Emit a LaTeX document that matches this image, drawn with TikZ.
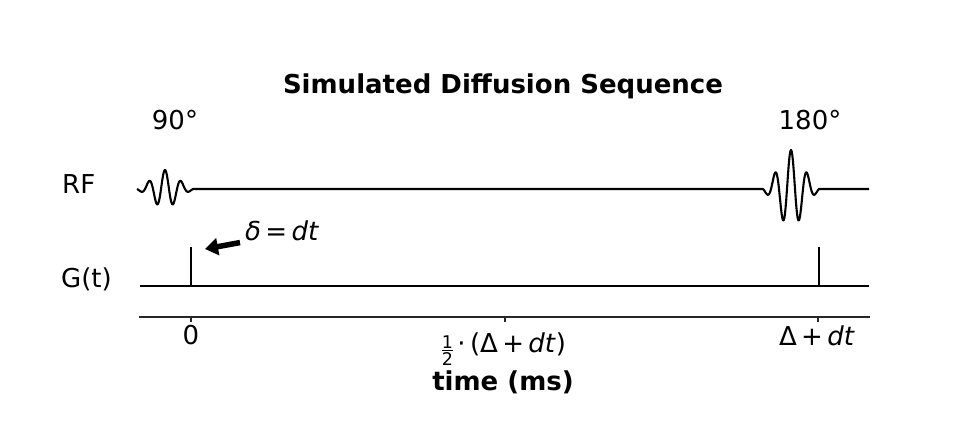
\documentclass[tikz,border=0pt]{standalone}
\usepackage{fontspec}
\setmainfont{DejaVu Sans}
\usetikzlibrary{arrows.meta}
\newcommand{\myhalf}{\raisebox{-0.5em}{\vbox{\fontsize{17.5}{17.5}\selectfont\halign{\hfil##\hfil\cr 1\cr\noalign{\kern1.5pt\hrule height1pt\kern1.5pt}2\cr}}}}
\begin{document}
\begin{tikzpicture}[x=1pt,y=-1pt,
  lbl/.style={inner sep=0pt, font=\fontsize{26}{31}\selectfont},
  ttl/.style={inner sep=0pt, font=\fontsize{26}{31}\selectfont\bfseries},
  sig/.style={line width=2.1pt, black, line join=round},
  axisline/.style={line width=1.1pt, black!85},
  bigarrow/.style={line width=5.5pt, -{Triangle[length=13pt,width=17pt]}}]
\path[use as bounding box, fill=white] (0,0) rectangle (972,428);
% title
\node[ttl, anchor=base] (title) at (503,93) {Simulated Diffusion Sequence};
% pulse labels
\node[lbl, anchor=base] (p90) at (175,129) {90°};
\node[lbl, anchor=base] (p180) at (810,129) {180°};
% row labels
\node[lbl, anchor=base west] (rf) at (62,193) {RF};
\node[lbl, anchor=base west] (gt) at (61,287) {G(t)};
% RF line with pulses
\draw[sig] plot[domain=-28:28, samples=141, smooth] ({165+\x}, {189 - 19*cos(22.5*\x)*exp(-(\x/17)^2)})
  -- (763,189)
  -- plot[domain=-28:28, samples=141, smooth] ({791+\x}, {189 - 39*cos(22.5*\x)*exp(-(\x/17)^2)})
  -- (869,189);
% gradient line
\coordinate (g0) at (140,286);
\coordinate (g1) at (869,286);
\coordinate (s1b) at (191,286);
\coordinate (s1t) at (191,247);
\coordinate (s2b) at (819,286);
\coordinate (s2t) at (819,247);
\draw[sig] (g0) -- (g1);
\draw[sig] (s1b) -- (s1t);
\draw[sig] (s2b) -- (s2t);
% annotation
\node[lbl, anchor=base west] (delta) at (245,240) {\textit{δ}\,=\,\textit{dt}};
\coordinate (tipA) at (205,249);
\draw[bigarrow] (delta.south west) ++(-5,2) -- (tipA);
% axis
\coordinate (a0) at (139,317);
\coordinate (a1) at (870,317);
\draw[axisline] (a0) -- (a1);
\foreach \t in {191,505,818} \draw[axisline] (\t,317) -- (\t,322);
\node[lbl, anchor=base] (t0) at (191,344) {0};
\node[lbl, anchor=base] (tmid) at (504,352) {\myhalf\,·\,(Δ\,+\,\textit{dt})};
\node[lbl, anchor=base] (tend) at (817,345) {Δ\,+\,\textit{dt}};
\node[ttl, anchor=base] (xlabel) at (503,390) {time (ms)};
\end{tikzpicture}
\end{document}
